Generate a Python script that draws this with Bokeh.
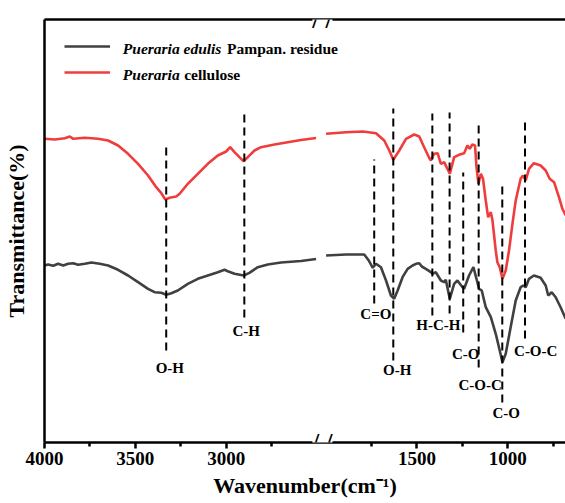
from bokeh.plotting import figure
from bokeh.models import (Range1d, LinearAxis, FixedTicker, Label, Legend, LegendItem,
                          ColumnDataSource)
from bokeh.embed import file_html
from bokeh.resources import INLINE
from bokeh.core.properties import value

# ---------------- data (wavenumber cm-1, transmittance a.u.) ----------------
residue_hi_wn = [4000, 3980, 3952, 3925, 3897, 3870, 3842, 3815, 3778, 3742, 3696, 3650, 3595,
                 3540, 3485, 3430, 3394, 3357, 3330, 3302, 3266, 3211, 3156, 3101, 3046, 3009,
                 2991, 2954, 2903, 2872, 2826, 2771, 2698, 2588, 2505]
residue_hi_t = [177, 178, 176.7, 178.7, 177, 178.7, 179.3, 177.7, 178.7, 180, 178.7, 177, 172.7,
                167, 160.3, 153.7, 150.3, 149.7, 147.7, 149.3, 152, 158.7, 163.7, 167, 170.3, 172.7,
                171.3, 168.7, 167, 169.7, 175.3, 178, 180, 181.5, 183.5]

residue_lo_wn = [2000, 1890, 1790, 1765, 1743, 1725, 1698, 1670, 1643, 1625, 1606, 1579, 1551,
                 1524, 1505, 1487, 1473, 1451, 1423, 1414, 1396, 1368, 1350, 1341, 1319, 1295,
                 1277, 1249, 1240, 1213, 1189, 1172, 1158, 1143, 1121, 1093, 1066, 1044, 1029,
                 1011, 984, 956, 929, 916, 901, 883, 856, 819, 791, 777, 758, 736, 709, 681]
residue_lo_t = [187, 188, 188, 182, 174.7, 178.7, 175.3, 162, 147, 143.7, 152, 165.3, 173.7,
                177, 178.7, 179.3, 176, 173.7, 170.3, 168.7, 170.3, 162, 160.3, 162.7, 143.7, 158.7,
                162, 155.3, 153.7, 167, 175.3, 163.7, 153.7, 152, 135.3, 125.3, 108.7, 92, 80.3,
                88.7, 115.3, 142, 155.3, 157, 155.3, 163.7, 167, 164.7, 157, 147, 150.3, 145.3,
                135.3, 123.7]

cellulose_hi_wn = [4000, 3943, 3888, 3861, 3842, 3778, 3705, 3650, 3595, 3540, 3485, 3430, 3385,
                   3357, 3335, 3311, 3275, 3256, 3211, 3156, 3101, 3046, 3000, 2978, 2954, 2927,
                   2905, 2881, 2844, 2808, 2734, 2661, 2588, 2505]
cellulose_hi_t = [303.7, 303, 304.3, 306, 303.7, 304.7, 303.7, 302, 297, 288.7, 278.7, 267, 255.3,
                  249.3, 243, 244.7, 246, 248.7, 258.7, 268.7, 278.7, 287, 291, 295.3, 290.3, 285.3,
                  281.3, 285.3, 292, 295.3, 298, 300.3, 302.5, 304.5]

cellulose_lo_wn = [2000, 1890, 1798, 1725, 1680, 1652, 1630, 1597, 1560, 1515, 1487, 1460, 1432,
                   1423, 1405, 1386, 1368, 1350, 1332, 1319, 1295, 1268, 1240, 1222, 1209, 1195,
                   1180, 1172, 1161, 1148, 1136, 1121, 1108, 1093, 1084, 1066, 1057, 1044, 1029,
                   1011, 993, 974, 956, 929, 916, 901, 883, 856, 819, 791, 769, 745, 718, 699, 681]
cellulose_lo_t = [308.7, 310.3, 311, 309.3, 302, 292, 282.7, 292, 303.7, 308, 306, 295.3, 284.5,
                  282, 288.7, 289.3, 278.7, 280.3, 273.7, 268.7, 285.3, 287.7, 289.3, 297, 293.7, 298,
                  297, 275.3, 258.7, 268.7, 263.7, 242, 225.3, 230.3, 222, 192, 180.3, 175.3, 163.7,
                  172, 192, 218.7, 242, 263.7, 267, 262, 273.7, 279.3, 277, 272, 263.7, 260.3, 245.3,
                  233.7, 227]

# assigned bands: dashed marker lines
band_wn = [3330, 2900, 1735, 1630, 1415, 1320, 1245, 1160, 1030, 905]
band_top = [296, 329, 283, 334, 329, 330, 270, 320, 260, 322]
band_bottom = [92, 125, 139, 82, 127, 129, 110, 75, 40, 104]

# band labels
label_text = ["O-H", "C-H", "C=O", "O-H", "H-C-H", "C-O", "C-O-C", "C-O", "C-O-C"]
label_wn = [3310, 2890, 1726, 1608, 1382, 1231, 1152, 1008, 846]
label_t = [75, 112, 129, 73, 118, 89, 58, 30, 92]

# axis ticks
major_ticks_hi = [4000, 3500, 3000]
minor_ticks_hi = [3750, 3250, 2750]
major_ticks_lo = [1500, 1000]
minor_ticks_lo = [1750, 1250, 750]

# ---------------- layout constants ----------------
HI_START = 4000
GAP_SHIFT = 450          # shift of the low-wavenumber segment on the broken axis
SPAN = 2868              # visible span in wavenumber units
BREAK_AT = 2470
Y_TOP = 423
FONT = "Liberation Serif"
RED = "#F03C3C"
GREY = "#404040"

p = figure(width=565, height=503, output_backend="svg", toolbar_location=None,
           x_range=Range1d(HI_START, HI_START - SPAN), y_range=Range1d(0, Y_TOP),
           min_border_left=43, min_border_right=0, min_border_top=19, min_border_bottom=61)
p.extra_x_ranges = {"lo": Range1d(HI_START - GAP_SHIFT, HI_START - GAP_SHIFT - SPAN)}
p.outline_line_color = None
p.grid.visible = False
p.background_fill_color = "white"
p.border_fill_color = "white"

# curves
r_black = p.line(residue_hi_wn, residue_hi_t, line_color=GREY, line_width=2.6)
p.line(residue_lo_wn, residue_lo_t, line_color=GREY, line_width=2.6, x_range_name="lo")
r_red = p.line(cellulose_hi_wn, cellulose_hi_t, line_color=RED, line_width=2.6)
p.line(cellulose_lo_wn, cellulose_lo_t, line_color=RED, line_width=2.6, x_range_name="lo")

# dashed band markers
hi_idx = [i for i, w in enumerate(band_wn) if w > BREAK_AT]
lo_idx = [i for i, w in enumerate(band_wn) if w < BREAK_AT]
for idx, rng in ((hi_idx, "default"), (lo_idx, "lo")):
    src = ColumnDataSource(dict(x=[band_wn[i] for i in idx],
                                y0=[band_bottom[i] for i in idx],
                                y1=[band_top[i] for i in idx]))
    p.segment(x0="x", x1="x", y0="y0", y1="y1", source=src, line_color="black",
              line_width=2, line_dash="8 5", x_range_name=rng)

hi_l = [i for i, w in enumerate(label_wn) if w > BREAK_AT]
lo_l = [i for i, w in enumerate(label_wn) if w < BREAK_AT]
for idx, rng in ((hi_l, "default"), (lo_l, "lo")):
    src = ColumnDataSource(dict(x=[label_wn[i] for i in idx], y=[label_t[i] for i in idx],
                                t=[label_text[i] for i in idx]))
    p.text(x="x", y="y", text="t", source=src, x_range_name=rng,
           text_font=value(FONT), text_font_style="bold", text_font_size="15px",
           text_align="center", text_baseline="middle", text_color="black")

# axes
xa = p.xaxis[0]
xa.ticker = FixedTicker(ticks=major_ticks_hi + [t + GAP_SHIFT for t in major_ticks_lo],
                        minor_ticks=minor_ticks_hi + [t + GAP_SHIFT for t in minor_ticks_lo])
xa.major_label_overrides = {**{t: str(t) for t in major_ticks_hi},
                            **{t + GAP_SHIFT: str(t) for t in major_ticks_lo}}
xa.axis_label = "Wavenumber(cm\u207b\u00b9)"
xa.axis_line_width = 2.5
xa.major_tick_line_width = 2.5
xa.minor_tick_line_width = 2.5
xa.major_tick_in = 0
xa.major_tick_out = 6
xa.minor_tick_in = 0
xa.minor_tick_out = 4
xa.major_label_standoff = 3
xa.major_label_text_font = FONT
xa.major_label_text_font_style = "bold"
xa.major_label_text_font_size = "19px"
xa.major_label_text_color = "black"
xa.axis_label_text_font = FONT
xa.axis_label_text_font_style = "bold"
xa.axis_label_text_font_size = "22px"
xa.axis_label_text_color = "black"
xa.axis_label_standoff = 5

ya = p.yaxis[0]
ya.ticker = FixedTicker(ticks=[])
ya.axis_line_width = 2.5
ya.major_tick_line_color = None
ya.minor_tick_line_color = None
ya.axis_label = "Transmittance(%)"
ya.axis_label_text_font = FONT
ya.axis_label_text_font_style = "bold"
ya.axis_label_text_font_size = "22px"
ya.axis_label_text_color = "black"
ya.axis_label_standoff = 16

top = LinearAxis(ticker=FixedTicker(ticks=[]), axis_line_width=2.5,
                 major_tick_line_color=None, minor_tick_line_color=None)
p.add_layout(top, "above")

# axis break marks "//" on top and bottom axis lines (labels are not clipped to the frame)
for yy in (0, Y_TOP):
    p.add_layout(Label(x=BREAK_AT, y=yy, text="/ /", text_font=FONT, text_font_style="bold",
                       text_font_size="25px", text_align="center", text_baseline="middle",
                       text_color="black", background_fill_color="white",
                       background_fill_alpha=1.0, level="overlay"))

# legend samples + styled text
legend = Legend(items=[LegendItem(label=" ", renderers=[r_black]),
                       LegendItem(label=" ", renderers=[r_red])],
                location=(20, 360), glyph_width=46, glyph_height=20, spacing=6, padding=0,
                margin=0, border_line_alpha=0, background_fill_alpha=0,
                label_text_font_size="2px")
p.add_layout(legend)

legend_parts = [
    (3569, 394, "Pueraria edulis", "bold italic"),
    (2995, 394, "Pampan. residue", "bold"),
    (3569, 368, "Pueraria", "bold italic"),
    (3231, 368, "cellulose", "bold"),
]
for lx, ly, txt, style in legend_parts:
    p.add_layout(Label(x=lx, y=ly, text=txt, text_font=FONT, text_font_style=style,
                       text_font_size="15.5px", text_baseline="middle", text_color="black"))

open("out.html", "w").write(file_html(p, INLINE))
